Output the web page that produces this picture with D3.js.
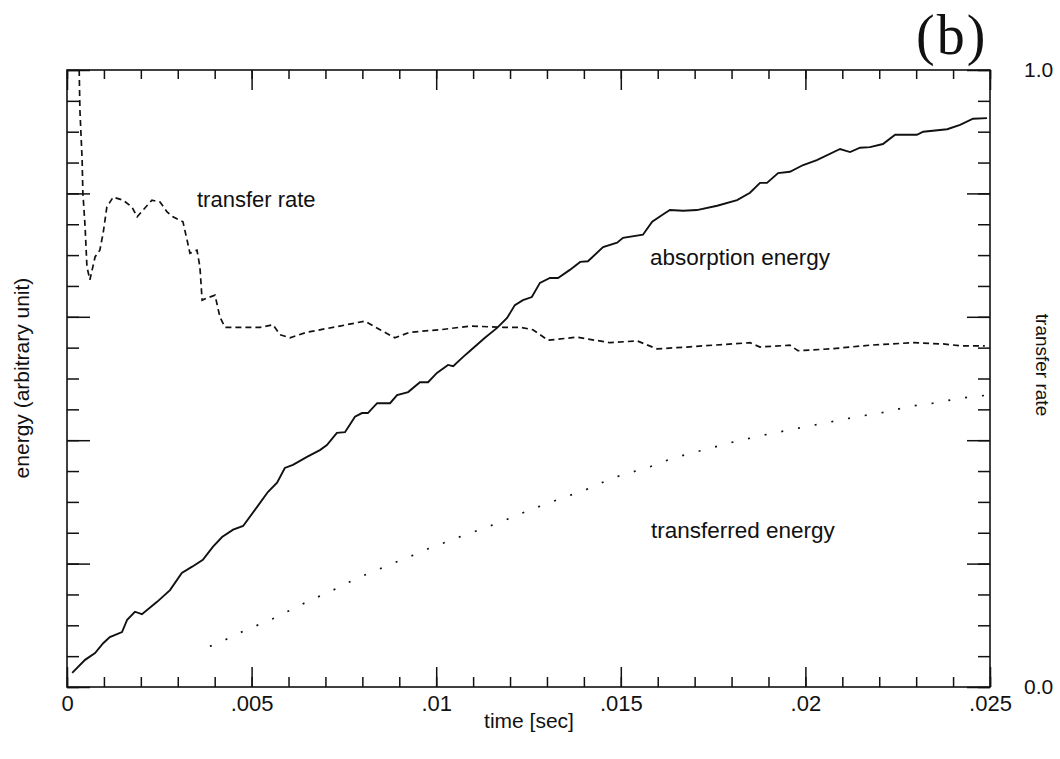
<!DOCTYPE html>
<html>
<head>
<meta charset="utf-8">
<script src="https://cdn.jsdelivr.net/npm/d3@7"></script>
<style>
  body { margin: 0; background: #fff; }
  text { font-family: "Liberation Sans", Arial, sans-serif; fill: #111; }
</style>
</head>
<body>
<svg id="chart" width="1060" height="759"></svg>
<script>
// time axis
const timeMajor = [0, 0.005, 0.01, 0.015, 0.02, 0.025];
const timeLabels = ["0", ".005", ".01", ".015", ".02", ".025"];
const timeMinor = d3.range(0, 0.02501, 0.001);

// left / right axes (0..1)
const valueMajor = [0, 0.2, 0.4, 0.6, 0.8, 1.0];
const valueMinor = d3.range(0, 1.001, 0.05);
const rateLabels = [0, 1];

// absorption energy (solid)
const absorbTime = [0.00014, 0.00049, 0.00076, 0.00098, 0.00116, 0.00149, 0.00163, 0.00184, 0.00203, 0.00244,
  0.00279, 0.00311, 0.00339, 0.00368, 0.00395, 0.00420, 0.00450, 0.00477, 0.00515, 0.00544,
  0.00569, 0.00590, 0.00612, 0.00650, 0.00685, 0.00704, 0.00731, 0.00753, 0.00780, 0.00799,
  0.00815, 0.00840, 0.00875, 0.00894, 0.00924, 0.00956, 0.00978, 0.01002, 0.01032, 0.01046,
  0.01073, 0.01092, 0.01132, 0.01165, 0.01192, 0.01213, 0.01235, 0.01259, 0.01281, 0.01308,
  0.01330, 0.01362, 0.01390, 0.01411, 0.01452, 0.01490, 0.01506, 0.01560, 0.01585, 0.01612,
  0.01633, 0.01669, 0.01706, 0.01761, 0.01815, 0.01850, 0.01877, 0.01896, 0.01926, 0.01958,
  0.01994, 0.02031, 0.02094, 0.02121, 0.02148, 0.02175, 0.02210, 0.02243, 0.02302, 0.02319,
  0.02384, 0.02419, 0.02454, 0.02492];
const absorbEnergy = [0.023, 0.044, 0.055, 0.071, 0.081, 0.089, 0.109, 0.122, 0.118, 0.138,
  0.157, 0.185, 0.195, 0.206, 0.227, 0.243, 0.255, 0.261, 0.292, 0.316,
  0.331, 0.355, 0.360, 0.373, 0.384, 0.392, 0.412, 0.413, 0.438, 0.444,
  0.444, 0.460, 0.460, 0.473, 0.478, 0.494, 0.494, 0.509, 0.522, 0.520,
  0.535, 0.545, 0.566, 0.582, 0.598, 0.619, 0.627, 0.632, 0.655, 0.663,
  0.663, 0.676, 0.689, 0.690, 0.713, 0.720, 0.728, 0.733, 0.754, 0.765,
  0.773, 0.772, 0.773, 0.780, 0.789, 0.801, 0.817, 0.817, 0.833, 0.835,
  0.846, 0.854, 0.872, 0.867, 0.874, 0.875, 0.880, 0.895, 0.895, 0.900,
  0.904, 0.911, 0.921, 0.922];

// transfer rate (dashed, right axis)
const rateTime = [0.00033, 0.00035, 0.00041, 0.00043, 0.00049, 0.00054, 0.00062, 0.00070, 0.00076, 0.00089,
  0.00098, 0.00108, 0.00125, 0.00152, 0.00176, 0.00190, 0.00206, 0.00230, 0.00252, 0.00271,
  0.00287, 0.00314, 0.00325, 0.00333, 0.00352, 0.00360, 0.00366, 0.00382, 0.00401, 0.00414,
  0.00428, 0.00477, 0.00523, 0.00558, 0.00577, 0.00604, 0.00650, 0.00739, 0.00807, 0.00848,
  0.00888, 0.00929, 0.01010, 0.01092, 0.01181, 0.01227, 0.01262, 0.01303, 0.01381, 0.01471,
  0.01544, 0.01598, 0.01679, 0.01750, 0.01850, 0.01877, 0.01958, 0.01980, 0.02067, 0.02175,
  0.02291, 0.02373, 0.02419, 0.02486];
const rateValue = [1.0, 0.935, 0.854, 0.801, 0.746, 0.681, 0.660, 0.681, 0.697, 0.708,
  0.736, 0.778, 0.794, 0.789, 0.778, 0.762, 0.773, 0.789, 0.786, 0.770,
  0.762, 0.754, 0.725, 0.703, 0.708, 0.681, 0.627, 0.631, 0.635, 0.600,
  0.583, 0.583, 0.583, 0.587, 0.571, 0.566, 0.575, 0.585, 0.593, 0.579,
  0.566, 0.575, 0.579, 0.585, 0.583, 0.583, 0.579, 0.562, 0.567, 0.558,
  0.561, 0.548, 0.551, 0.554, 0.558, 0.551, 0.554, 0.545, 0.548, 0.554,
  0.558, 0.556, 0.553, 0.553];

// transferred energy (dotted)
const transTime = [0.00387, 0.00406, 0.00490, 0.00536, 0.00566, 0.00596, 0.00650, 0.00739, 0.00780, 0.00918,
  0.00948, 0.00978, 0.01005, 0.01056, 0.01073, 0.01100, 0.01173, 0.01254, 0.01335, 0.01403,
  0.01479, 0.01579, 0.01641, 0.01723, 0.01804, 0.01885, 0.01985, 0.02140, 0.02221, 0.02283,
  0.02346, 0.02419, 0.02492];
const transEnergy = [0.066, 0.070, 0.094, 0.105, 0.113, 0.122, 0.138, 0.162, 0.175, 0.209,
  0.216, 0.224, 0.230, 0.242, 0.245, 0.251, 0.267, 0.287, 0.305, 0.319,
  0.339, 0.357, 0.371, 0.384, 0.397, 0.408, 0.420, 0.438, 0.446, 0.455,
  0.460, 0.468, 0.473];

const svg = d3.select("#chart");
const pLeft = 67, pRight = 990, pTop = 70, pBottom = 687;

const x = d3.scaleLinear().domain([0, 0.025]).range([pLeft, pRight]);
const yL = d3.scaleLinear().domain([0, 1]).range([pBottom, pTop]);
const yR = d3.scaleLinear().domain([0, 1]).range([pBottom, pTop]);

function tickAxis(axis, vals, size, tr) {
  const g = svg.append("g").attr("transform", tr)
    .call(axis.tickValues(vals).tickSizeInner(size).tickSizeOuter(0).tickFormat(""));
  g.select(".domain").remove();
  g.selectAll("line").attr("stroke", "#111").attr("stroke-width", 1.5);
  return g;
}

// minor + major ticks, all pointing inward
tickAxis(d3.axisBottom(x), timeMinor, -10, `translate(0,${pBottom})`);
tickAxis(d3.axisBottom(x), timeMajor, -20, `translate(0,${pBottom})`);
tickAxis(d3.axisTop(x), timeMinor, -9, `translate(0,${pTop})`);
tickAxis(d3.axisTop(x), timeMajor, -20, `translate(0,${pTop})`);
tickAxis(d3.axisLeft(yL), valueMinor, -12, `translate(${pLeft},0)`);
tickAxis(d3.axisLeft(yL), valueMajor, -23, `translate(${pLeft},0)`);
tickAxis(d3.axisRight(yR), valueMinor, -12, `translate(${pRight},0)`);
tickAxis(d3.axisRight(yR), valueMajor, -23, `translate(${pRight},0)`);

// frame
svg.append("rect")
  .attr("x", pLeft).attr("y", pTop)
  .attr("width", pRight - pLeft).attr("height", pBottom - pTop)
  .attr("fill", "none").attr("stroke", "#111").attr("stroke-width", 1.6);

// bottom labels
const bx = svg.append("g").attr("transform", `translate(0,${pBottom})`)
  .call(d3.axisBottom(x).tickValues(timeMajor).tickSize(0).tickPadding(8)
    .tickFormat((d, i) => timeLabels[i]));
bx.select(".domain").remove();
bx.selectAll("text").style("font-size", "22px");

// right labels 0.0 / 1.0
const rx = svg.append("g").attr("transform", `translate(${pRight},0)`)
  .call(d3.axisRight(yR).tickValues(rateLabels).tickSize(0).tickPadding(34)
    .tickFormat(d3.format(".1f")));
rx.select(".domain").remove();
rx.selectAll("text").style("font-size", "21px");

// curves
const lineAbs = d3.line().x((d, i) => x(absorbTime[i])).y(d => yL(d));
svg.append("path").datum(absorbEnergy)
  .attr("d", lineAbs).attr("fill", "none")
  .attr("stroke", "#111").attr("stroke-width", 1.9);

const lineRate = d3.line().x((d, i) => x(rateTime[i])).y(d => yR(d));
svg.append("path").datum(rateValue)
  .attr("d", lineRate).attr("fill", "none")
  .attr("stroke", "#111").attr("stroke-width", 1.7)
  .attr("stroke-dasharray", "6,4");

const lineTrans = d3.line().x((d, i) => x(transTime[i])).y(d => yL(d));
svg.append("path").datum(transEnergy)
  .attr("d", lineTrans).attr("fill", "none")
  .attr("stroke", "#111").attr("stroke-width", 1.7)
  .attr("stroke-dasharray", "2,15");

// in-plot labels
svg.append("text").attr("x", 197).attr("y", 207).style("font-size", "22px").text("transfer rate");
svg.append("text").attr("x", 650).attr("y", 265).style("font-size", "22.5px").text("absorption energy");
svg.append("text").attr("x", 651).attr("y", 538).style("font-size", "22.5px").text("transferred energy");

// axis titles
svg.append("text").attr("x", 529).attr("y", 728).attr("text-anchor", "middle")
  .style("font-size", "21px").text("time [sec]");
svg.append("text").attr("transform", "translate(29,378) rotate(-90)").attr("text-anchor", "middle")
  .style("font-size", "21px").text("energy (arbitrary unit)");
svg.append("text").attr("transform", "translate(1036,365) rotate(90)").attr("text-anchor", "middle")
  .style("font-size", "19px").text("transfer rate");

svg.append("text").attr("x", 916).attr("y", 54)
  .style("font-family", "'Liberation Serif', 'DejaVu Serif', serif").style("font-size", "56px")
  .style("letter-spacing", "2px")
  .text("(b)");
</script>
</body>
</html>
